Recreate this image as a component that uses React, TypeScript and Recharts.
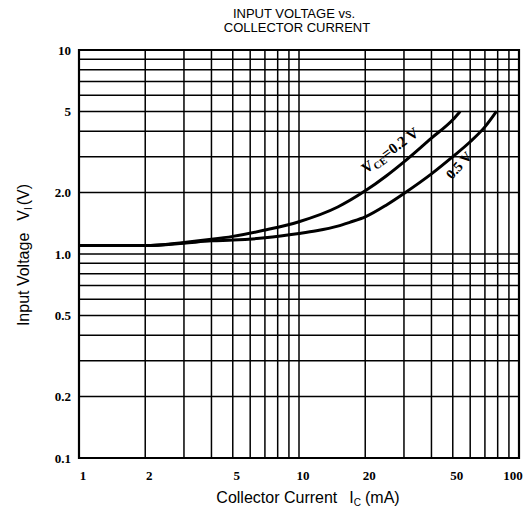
import React from "react"
import { LineChart, Line, XAxis, YAxis, CartesianGrid, ReferenceArea } from "recharts"

// Collector current (mA) vs input voltage (V)
const current02 = [1, 2, 3, 4, 5, 7, 10, 15, 20, 25, 30, 40, 50, 54]
const voltage02 = [1.1, 1.1, 1.14, 1.18, 1.22, 1.31, 1.44, 1.7, 2.04, 2.42, 2.83, 3.7, 4.55, 5.0]
const current05 = [1, 2, 3, 4, 5, 7, 10, 12, 15, 17, 20, 25, 30, 40, 50, 60, 70, 79]
const voltage05 = [1.1, 1.1, 1.13, 1.16, 1.17, 1.2, 1.26, 1.3, 1.37, 1.43, 1.52, 1.74, 1.98, 2.47, 3.0, 3.55, 4.2, 5.0]

const xGrid = [1, 2, 3, 4, 5, 6, 7, 8, 9, 10, 20, 30, 40, 50, 60, 70, 80, 90, 100]
const yGrid = [0.1, 0.2, 0.3, 0.4, 0.5, 0.6, 0.7, 0.8, 0.9, 1, 2, 3, 4, 5, 6, 7, 8, 9, 10]
const xLabels: Record<number, string> = { 1: "1", 2: "2", 5: "5", 10: "10", 20: "20", 50: "50", 100: "100" }
const yLabels: Record<number, string> = { 0.1: "0.1", 0.2: "0.2", 0.5: "0.5", 1: "1.0", 2: "2.0", 5: "5", 10: "10" }

const series02 = current02.map((x, i) => ({ x, y: voltage02[i] }))
const series05 = current05.map((x, i) => ({ x, y: voltage05[i] }))

const tickFont = { fontFamily: "Liberation Serif", fontWeight: 700, fontSize: 13, fill: "#000" }

const XTick = (props: any) => {
  const { x, y, payload } = props
  const label = xLabels[payload.value]
  if (!label) return null
  const shift = payload.value === 100 ? -6 : 4
  return (
    <text x={x + shift} y={y + 14} textAnchor="middle" {...tickFont}>
      {label}
    </text>
  )
}

export default function App() {
  return (
    <div style={{ position: "absolute", left: 0, top: 0, width: 527, height: 512, background: "#fff" }}>
      <LineChart width={527} height={512} margin={{ top: 50, right: 8, bottom: 24, left: 0 }}>
        <CartesianGrid stroke="#000" strokeWidth={1.5} />
        <XAxis
          type="number"
          dataKey="x"
          scale="log"
          domain={[1, 100]}
          ticks={xGrid}
          interval={0}
          height={30}
          allowDataOverflow
          tickLine={false}
          axisLine={false}
          tick={<XTick />}
        />
        <YAxis
          type="number"
          dataKey="y"
          scale="log"
          domain={[0.1, 10]}
          ticks={yGrid}
          interval={0}
          allowDataOverflow
          width={79}
          tickLine={false}
          axisLine={false}
          tick={tickFont}
          tickFormatter={(v: number) => yLabels[v] ?? ""}
        />
        <ReferenceArea x1={1} x2={100} y1={0.1} y2={10} fill="none" stroke="#000" strokeWidth={2.2} fillOpacity={0} />
        <Line data={series02} dataKey="y" type="monotone" stroke="#000" strokeWidth={3} dot={false} isAnimationActive={false} />
        <Line data={series05} dataKey="y" type="monotone" stroke="#000" strokeWidth={3} dot={false} isAnimationActive={false} />
      </LineChart>
      <svg width={527} height={512} style={{ position: "absolute", left: 0, top: 0, pointerEvents: "none" }}>
        <g fontFamily="Liberation Sans Narrow, Liberation Sans" fontSize={13} textAnchor="middle" fill="#000">
          <text x={294} y={18}>INPUT VOLTAGE vs.</text>
          <text x={297} y={32}>COLLECTOR CURRENT</text>
        </g>
        <text x={308} y={503} textAnchor="middle" fontFamily="Liberation Sans" fontSize={16} fill="#000">
          Collector Current<tspan dx={12}>I</tspan>
          <tspan fontSize={10} dy={3}>C</tspan>
          <tspan dy={-3} dx={4}>(mA)</tspan>
        </text>
        <text
          transform="translate(29,255) rotate(-90)"
          textAnchor="middle"
          fontFamily="Liberation Sans"
          fontSize={16}
          fill="#000"
        >
          Input Voltage<tspan dx={12}>V</tspan>
          <tspan fontSize={10} dy={3}>I</tspan>
          <tspan dy={-3} dx={2}>(V)</tspan>
        </text>
        <text
          transform="translate(366,174) rotate(-36)"
          fontFamily="Liberation Serif"
          fontWeight={700}
          fontSize={15}
          fill="#000"
        >
          V<tspan fontSize={10} dy={3}>CE</tspan>
          <tspan dy={-3}>=0.2 V</tspan>
        </text>
        <text
          transform="translate(452,180) rotate(-48)"
          fontFamily="Liberation Serif"
          fontWeight={700}
          fontSize={14}
          fill="#000"
        >
          0.5 V
        </text>
      </svg>
    </div>
  )
}
